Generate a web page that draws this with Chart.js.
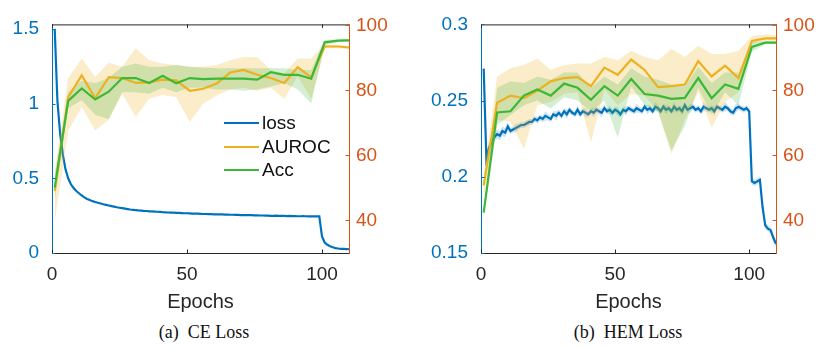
<!DOCTYPE html>
<html><head><meta charset="utf-8">
<script src="https://cdn.jsdelivr.net/npm/chart.js@4.4.1/dist/chart.umd.min.js"></script>
<style>
html,body{margin:0;padding:0;background:#fff;}
#wrap{position:relative;width:819px;height:349px;overflow:hidden;background:#fff;}
canvas{position:absolute;top:0;}
.cap{position:absolute;font-family:"Liberation Serif","Times New Roman",serif;font-size:18px;color:#111;white-space:pre;transform:translateX(-50%);top:321px;line-height:22px;}
.legend{position:absolute;font-family:"Liberation Sans",Arial,sans-serif;font-size:19px;color:#111;}
.legend .row{position:absolute;left:0;height:24px;line-height:24px;white-space:nowrap;}
.legend .sw{display:inline-block;width:35px;height:2px;vertical-align:middle;margin-right:3px;position:relative;top:-1px;}
</style></head>
<body><div id="wrap">
<canvas id="c1" width="410" height="320" style="left:0"></canvas>
<canvas id="c2" width="409" height="320" style="left:410px"></canvas>
<div id="leg" class="legend" style="left:224px;top:111px"></div>
<div class="cap" style="left:204px">(a)  CE Loss</div>
<div class="cap" style="left:628px">(b)  HEM Loss</div>
</div>
<script>
// ---------- categories / ticks ----------
const epochs = []; for (let e = 1; e <= 110; e++) epochs.push(e);
const metricEpochs = [1,6,11,16,21,26,31,36,41,46,51,56,61,66,71,76,81,86,91,96,101,106,110];
const xTicks = [0,50,100];
const ceLossTicks = [0,0.5,1,1.5];
const hemLossTicks = [0.15,0.2,0.25,0.3];
const pctTicks = [40,60,80,100];
const legendLabels = ['loss','AUROC','Acc'];

// ---------- (a) CE Loss ----------
const ceLoss = [
1.50,1.02,0.80,0.66,0.56,0.50,0.46,0.435,0.415,0.40,
0.385,0.372,0.362,0.354,0.347,0.341,0.336,0.331,0.326,0.322,
0.318,0.314,0.310,0.306,0.303,0.300,0.297,0.294,0.291,0.289,
0.287,0.285,0.284,0.282,0.281,0.279,0.278,0.277,0.276,0.275,
0.273,0.272,0.271,0.270,0.270,0.269,0.268,0.267,0.266,0.266,
0.265,0.264,0.263,0.263,0.262,0.261,0.261,0.260,0.260,0.259,
0.259,0.258,0.258,0.257,0.257,0.256,0.256,0.255,0.255,0.254,
0.254,0.253,0.254,0.253,0.252,0.252,0.251,0.251,0.250,0.250,
0.249,0.249,0.250,0.249,0.248,0.248,0.247,0.248,0.247,0.247,
0.246,0.246,0.247,0.246,0.245,0.245,0.246,0.245,0.245,0.11,
0.07,0.055,0.045,0.038,0.033,0.030,0.028,0.027,0.026,0.025];
const ceLossStd = [
0.03,0.02,0.01,0.006,0.005,0.004,0.004,0.003,0.003,0.003,
0.003,0.003,0.002,0.002,0.002,0.002,0.002,0.002,0.002,0.002,
0.002,0.002,0.002,0.002,0.002,0.002,0.002,0.002,0.002,0.002,
0.002,0.002,0.002,0.002,0.002,0.002,0.002,0.002,0.002,0.002,
0.002,0.002,0.002,0.002,0.002,0.002,0.002,0.002,0.002,0.002,
0.002,0.002,0.002,0.002,0.002,0.002,0.002,0.002,0.002,0.002,
0.002,0.002,0.002,0.002,0.002,0.002,0.002,0.002,0.002,0.002,
0.002,0.002,0.002,0.002,0.002,0.002,0.002,0.002,0.002,0.002,
0.002,0.002,0.002,0.002,0.002,0.002,0.002,0.002,0.002,0.002,
0.002,0.002,0.002,0.002,0.002,0.002,0.002,0.002,0.002,0.006,
0.004,0.003,0.002,0.002,0.002,0.002,0.002,0.002,0.002,0.002];
const ceAuroc   = [49.1,77.9,84.6,77.6,84.1,83.8,82.3,82.5,83.3,83.1,79.9,80.5,82.1,85.5,86.3,84.8,83.8,82.3,87.1,84.0,93.5,93.5,93.2];
const ceAurocHi = [55.0,83.8,89.8,84.1,88.5,87.3,93.0,89.3,88.3,87.8,87.3,87.3,87.8,89.3,90.3,90.3,86.3,85.3,89.8,89.8,94.3,94.0,93.7];
const ceAurocLo = [39.7,67.5,75.0,67.7,71.0,78.9,71.9,77.4,78.6,77.9,70.4,75.9,78.4,80.3,80.8,79.9,80.8,77.4,84.3,77.4,93.0,93.0,92.7];
const ceAcc     = [50.1,76.8,80.6,77.2,79.6,83.8,83.8,82.3,84.5,82.2,83.8,83.5,83.6,83.6,83.6,83.3,85.6,84.8,84.8,83.6,94.8,95.3,95.4];
const ceAccHi   = [54.0,79.5,83.0,82.3,83.8,87.3,88.3,87.3,87.3,87.8,87.3,87.0,86.8,86.8,86.8,86.8,86.8,86.8,86.3,86.3,95.5,95.7,95.8];
const ceAccLo   = [46.0,74.5,77.0,72.4,71.2,79.4,79.4,79.0,80.8,79.4,80.8,80.8,80.3,80.3,79.9,80.3,81.2,82.3,80.3,76.0,94.0,94.9,95.0];

// ---------- (b) HEM Loss ----------
const hemLoss = [
0.271,0.212,0.219,0.223,0.226,0.228,0.227,0.230,0.229,0.233,
0.230,0.231,0.232,0.233,0.234,0.234,0.235,0.236,0.236,0.238,
0.237,0.239,0.238,0.240,0.239,0.238,0.241,0.240,0.242,0.240,
0.243,0.241,0.244,0.242,0.241,0.244,0.241,0.243,0.242,0.241,
0.243,0.242,0.244,0.243,0.242,0.245,0.243,0.244,0.242,0.244,
0.243,0.241,0.244,0.243,0.245,0.244,0.243,0.245,0.244,0.243,
0.246,0.244,0.245,0.243,0.246,0.245,0.243,0.246,0.244,0.245,
0.243,0.246,0.244,0.245,0.243,0.247,0.244,0.245,0.246,0.244,
0.245,0.243,0.246,0.245,0.244,0.245,0.243,0.246,0.245,0.244,
0.246,0.245,0.243,0.242,0.245,0.246,0.245,0.244,0.245,0.243,
0.197,0.196,0.197,0.198,0.180,0.168,0.166,0.165,0.160,0.156];
const hemLossStd = [
0.012,0.004,0.003,0.003,0.003,0.003,0.003,0.003,0.003,0.003,
0.002,0.002,0.003,0.002,0.002,0.002,0.002,0.002,0.002,0.002,
0.002,0.002,0.002,0.003,0.002,0.002,0.002,0.003,0.002,0.002,
0.002,0.003,0.002,0.002,0.002,0.003,0.002,0.002,0.003,0.002,
0.002,0.003,0.002,0.002,0.003,0.002,0.002,0.003,0.002,0.002,
0.003,0.002,0.002,0.003,0.002,0.002,0.002,0.003,0.002,0.002,
0.002,0.003,0.002,0.002,0.003,0.002,0.002,0.002,0.003,0.002,
0.002,0.003,0.002,0.002,0.003,0.002,0.002,0.003,0.002,0.002,
0.002,0.002,0.003,0.002,0.002,0.002,0.003,0.002,0.002,0.002,
0.003,0.002,0.002,0.002,0.003,0.002,0.002,0.002,0.002,0.002,
0.002,0.002,0.002,0.002,0.003,0.002,0.002,0.002,0.003,0.002];
const hemAuroc   = [50.8,76.2,78.4,77.6,79.9,82.8,83.8,84.1,81.3,87.0,84.8,89.5,86.3,81.0,81.3,81.8,89.0,84.3,87.6,83.8,95.2,96.0,96.0];
const hemAurocHi = [53.6,84.3,86.8,87.8,89.8,86.3,87.8,88.3,88.3,90.3,89.3,92.2,90.3,89.3,92.7,90.3,93.7,91.2,91.2,92.2,96.7,97.2,97.0];
const hemAurocLo = [46.7,70.9,70.4,62.0,75.4,76.4,78.9,79.4,64.0,80.3,75.4,78.9,78.4,73.4,60.5,70.9,79.4,68.5,76.4,79.4,94.2,95.2,95.2];
const hemAcc     = [42.4,73.2,73.6,78.4,80.3,78.4,82.1,80.8,77.1,81.3,78.4,83.5,78.9,78.4,77.4,77.7,83.8,77.6,81.8,80.5,93.4,94.7,94.7];
const hemAccHi   = [43.5,80.8,82.8,82.3,84.3,83.3,85.5,85.5,80.8,84.3,81.8,86.8,84.3,83.3,81.8,81.3,87.3,82.3,85.5,85.5,94.9,95.2,95.2];
const hemAccLo   = [41.3,69.4,72.4,75.4,76.9,74.4,77.9,76.9,73.4,76.9,65.5,81.3,75.4,73.4,61.5,69.0,80.8,72.4,79.4,75.4,91.9,94.2,94.2];

// ---------- styles ----------
const BLUE = '#0072BD', ORANGE_AX = '#D95319', GOLD = '#EDB120', GREEN = '#3CB838', AX = '#262626';
const BLUE_FILL = 'rgba(0,114,189,0.2)', GOLD_FILL = 'rgba(237,177,32,0.24)', GREEN_FILL = 'rgba(60,184,56,0.22)';
const FAM = '"Liberation Sans", Arial, Helvetica, sans-serif';
const NONE = 'rgba(0,0,0,0)';
const fmt = v => String(Number(v.toFixed(4)));

const pts = (xs, ys) => xs.map((x, i) => ({x: x, y: ys[i]}));
const lineDs = (label, data, axis, color) => ({label, data, yAxisID: axis, borderColor: color, borderWidth: 2.2, pointRadius: 0, fill: false, tension: 0});
const bandDs = (label, data, axis, fillColor, fill) => ({label, data, yAxisID: axis, borderColor: NONE, borderWidth: 0, pointRadius: 0, backgroundColor: fillColor, fill: fill, tension: 0});

const frame = {
  id: 'frame',
  afterDraw(chart) {
    const {ctx, chartArea: {left, right, top, bottom}, scales} = chart;
    const L = 3.5;
    ctx.save();
    ctx.lineWidth = 1;
    ctx.strokeStyle = AX;
    ctx.beginPath();
    ctx.moveTo(left, top + 0.5); ctx.lineTo(right, top + 0.5);
    scales.x.ticks.forEach(t => {
      const px = Math.round(scales.x.getPixelForValue(t.value)) + 0.5;
      ctx.moveTo(px, bottom); ctx.lineTo(px, bottom - L);
      ctx.moveTo(px, top); ctx.lineTo(px, top + L);
    });
    ctx.stroke();
    ctx.strokeStyle = BLUE;
    ctx.beginPath();
    scales.y.ticks.forEach(t => {
      const py = Math.round(scales.y.getPixelForValue(t.value)) + 0.5;
      ctx.moveTo(left, py); ctx.lineTo(left + L, py);
    });
    ctx.stroke();
    ctx.strokeStyle = ORANGE_AX;
    ctx.beginPath();
    scales.y2.ticks.forEach(t => {
      const py = Math.round(scales.y2.getPixelForValue(t.value)) + 0.5;
      ctx.moveTo(right, py); ctx.lineTo(right - L, py);
    });
    ctx.stroke();
    ctx.restore();
  }
};

function makeChart(id, s) {
  const datasets = [
    lineDs('Acc', pts(metricEpochs, s.acc), 'y2', GREEN),
    lineDs('AUROC', pts(metricEpochs, s.auroc), 'y2', GOLD),
    bandDs('Acc band', pts(metricEpochs, s.accHi), 'y2', GREEN_FILL, '+1'),
    bandDs('Acc band low', pts(metricEpochs, s.accLo), 'y2', NONE, false),
    bandDs('AUROC band', pts(metricEpochs, s.aurocHi), 'y2', GOLD_FILL, '+1'),
    bandDs('AUROC band low', pts(metricEpochs, s.aurocLo), 'y2', NONE, false),
    lineDs('loss', pts(epochs, s.loss), 'y', BLUE),
    bandDs('loss band', pts(epochs, s.loss.map((v, i) => v + s.lossStd[i])), 'y', BLUE_FILL, '+1'),
    bandDs('loss band low', pts(epochs, s.loss.map((v, i) => v - s.lossStd[i])), 'y', NONE, false)
  ];
  const tickFont = {family: FAM, size: 19};
  return new Chart(document.getElementById(id), {
    type: 'line',
    data: {datasets},
    options: {
      responsive: false, animation: false, devicePixelRatio: 1,
      layout: {padding: {top: 17, left: 0, right: 0, bottom: 0}},
      plugins: {legend: {display: false}, tooltip: {enabled: false}},
      scales: {
        x: {
          type: 'linear', min: 0, max: 110,
          afterBuildTicks: sc => { sc.ticks = xTicks.map(v => ({value: v})); },
          afterFit: sc => { sc.height = 67; },
          grid: {display: false, drawTicks: false},
          border: {display: true, color: AX, width: 1},
          ticks: {font: tickFont, color: AX, padding: 10, maxRotation: 0, autoSkip: false, callback: fmt},
          title: {display: true, text: 'Epochs', color: AX, font: {family: FAM, size: 20, lineHeight: 1.2}, padding: {top: 0, bottom: 6}}
        },
        y: {
          type: 'linear', position: 'left', min: s.yMin, max: s.yMax,
          afterBuildTicks: sc => { sc.ticks = s.yTicks.map(v => ({value: v})); },
          afterFit: sc => { sc.width = s.leftW; },
          grid: {display: false, drawTicks: false},
          border: {display: true, color: BLUE, width: 1},
          ticks: {font: tickFont, color: BLUE, padding: 13, autoSkip: false, callback: fmt}
        },
        y2: {
          type: 'linear', position: 'right', min: 30, max: 100.3,
          afterBuildTicks: sc => { sc.ticks = pctTicks.map(v => ({value: v})); },
          afterFit: sc => { sc.width = s.rightW; },
          grid: {display: false, drawTicks: false},
          border: {display: true, color: ORANGE_AX, width: 1},
          ticks: {font: tickFont, color: ORANGE_AX, padding: 7, autoSkip: false, callback: fmt}
        }
      }
    },
    plugins: [frame]
  });
}

makeChart('c1', {loss: ceLoss, lossStd: ceLossStd, auroc: ceAuroc, aurocHi: ceAurocHi, aurocLo: ceAurocLo,
  acc: ceAcc, accHi: ceAccHi, accLo: ceAccLo, yMin: 0, yMax: 1.53, yTicks: ceLossTicks, leftW: 52, rightW: 61});
makeChart('c2', {loss: hemLoss, lossStd: hemLossStd, auroc: hemAuroc, aurocHi: hemAurocHi, aurocLo: hemAurocLo,
  acc: hemAcc, accHi: hemAccHi, accLo: hemAccLo, yMin: 0.15, yMax: 0.3, yTicks: hemLossTicks, leftW: 71, rightW: 43});

// legend (real text)
const legColors = [BLUE, GOLD, GREEN];
const leg = document.getElementById('leg');
legendLabels.forEach((lab, i) => {
  const row = document.createElement('div');
  row.className = 'row';
  row.style.top = (i * 23.7) + 'px';
  const sw = document.createElement('span');
  sw.className = 'sw';
  sw.style.background = legColors[i];
  row.appendChild(sw);
  row.appendChild(document.createTextNode(lab));
  leg.appendChild(row);
});
</script>
</body></html>
